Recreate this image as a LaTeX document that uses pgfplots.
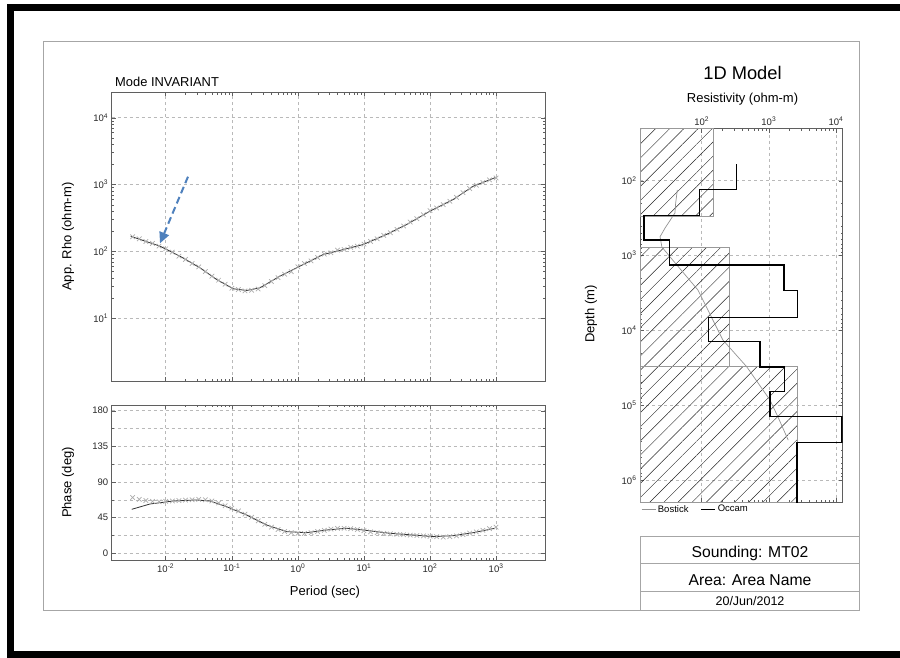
\documentclass[border=0pt]{standalone}
\usepackage{fontspec}
\setmainfont{Liberation Sans}
\usepackage{pgfplots}
\pgfplotsset{compat=1.18}
\usetikzlibrary{patterns.meta,arrows.meta}

\definecolor{arrowblue}{RGB}{79,129,189}
\definecolor{axgray}{RGB}{95,95,95}
\newcommand{\tp}[1]{10\textsuperscript{#1}}

\pgfplotsset{
  mt/.style={
    scale only axis,
    anchor=north west,
    axis line style={axgray, line width=0.7pt},
    grid style={dashed, gray!55, line width=0.5pt},
    minor grid style={dashed, gray!55, line width=0.5pt},
    tick style={axgray, line width=0.4pt},
    major tick length=4pt, minor tick length=2.2pt,
    tick label style={font=\fontsize{9.5}{10}\selectfont, text=black!85},
  },
  dat/.style={only marks, mark=x, mark size=3.2pt, color=gray!65, mark options={line width=0.7pt}}
}

\begin{document}
\begin{tikzpicture}
\path[use as bounding box] (0pt,0pt) rectangle (900pt,-657pt);
% frames
\draw[line width=7pt] (915pt,-7.5pt) -- (10pt,-7.5pt) -- (10pt,-654.5pt) -- (915pt,-654.5pt);
\draw[gray!70, line width=1pt] (43pt,-41.7pt) rectangle (859.3pt,-610.7pt);

% ---------------- Apparent resistivity ----------------
\begin{axis}[mt,
  at={(111.7pt,-92.3pt)}, width=433.3pt, height=288.7pt,
  xmode=log, ymode=log,
  xmin=0.001524, xmax=5495, ymin=1.156, ymax=23988,
  xtick={0.01,0.1,1,10,100,1000}, xticklabels={},
  ytick={10,100,1000,10000},
  yticklabels={\tp{1},\tp{2},\tp{3},\tp{4}},
  xmajorgrids, ymajorgrids]
\addplot[dat] coordinates {
(0.003162,166.0) (0.003981,154.9) (0.005012,141.3) (0.006310,131.8) (0.007943,120.2)
(0.01,109.6) (0.01259,97.7) (0.01585,85.1) (0.01995,75.9) (0.02512,66.1)
(0.03162,58.9) (0.03981,50.1) (0.05012,42.7) (0.0631,37.2) (0.07943,32.4)
(0.1,28.2) (0.1259,26.9) (0.1585,25.7) (0.1995,26.3) (0.2512,27.5)
(0.3162,30.9) (0.3981,35.5) (0.5012,40.7) (0.631,45.7) (0.7943,50.1)
(1,58.9) (1.259,66.1) (1.585,72.4) (1.995,81.3) (2.512,91.2)
(3.162,95.5) (3.981,104.7) (5.012,107.2) (6.31,114.8) (7.943,120.2)
(10,128.8) (12.59,141.3) (15.85,154.9) (19.95,173.8) (25.12,190.5)
(31.62,213.8) (39.81,239.9) (50.12,275.4) (63.1,309.0) (79.43,354.8)
(100,407.4) (125.9,446.7) (158.5,501.2) (199.5,562.3) (251.2,645.7)
(316.2,758.6) (398.1,871.0) (501.2,977.2) (631,1072) (794.3,1175) (1000,1259)
};
\addplot[black!80, line width=0.8pt] coordinates {
(0.00295,169) (0.0082,120) (0.01644,85) (0.0330,57) (0.0592,38) (0.1054,27.7)
(0.168,26.1) (0.267,28.6) (0.536,42.8) (1.076,60.3) (2.42,90) (5.47,110)
(9.75,127) (22.0,180) (44.3,253) (99.5,400) (224,598) (451,946) (959,1265)
};
\end{axis}

% ---------------- Phase ----------------
\begin{axis}[mt,
  at={(111.7pt,-405pt)}, width=433.3pt, height=155pt,
  xmode=log,
  xmin=0.001524, xmax=5495, ymin=-8.5, ymax=187.2,
  xtick={0.01,0.1,1,10,100,1000},
  xticklabels={\tp{-2},\tp{-1},\tp{0},\tp{1},\tp{2},\tp{3}},
  ytick={0,45,90,135,180}, yticklabels={0,45,90,135,180},
  minor ytick={22.5,67.5,112.5,157.5},
  xmajorgrids, ymajorgrids, yminorgrids]
\addplot[dat] coordinates {
(0.003162,70.5) (0.003981,68) (0.005012,66.5) (0.006310,65.5) (0.007943,65)
(0.01,65.5) (0.01259,66) (0.01585,66.5) (0.01995,67) (0.02512,67.5)
(0.03162,68) (0.03981,67.5) (0.05012,66) (0.0631,63.5) (0.07943,60)
(0.1,57) (0.1259,53.5) (0.1585,49.5) (0.1995,45.5) (0.2512,41)
(0.3162,36.5) (0.3981,33) (0.5012,30) (0.631,27.5) (0.7943,26)
(1,25) (1.259,25) (1.585,26) (1.995,27.5) (2.512,29)
(3.162,30.5) (3.981,31.5) (5.012,31.5) (6.31,31) (7.943,30)
(10,28.5) (12.59,27) (15.85,26) (19.95,25) (25.12,24.5)
(31.62,24) (39.81,23.5) (50.12,23) (63.1,22.5) (79.43,22)
(100,21.5) (125.9,21) (158.5,20.5) (199.5,21) (251.2,22)
(316.2,23.5) (398.1,25.5) (501.2,27) (631,29) (794.3,31) (1000,33)
};
\addplot[black!80, line width=0.8pt] coordinates {
(0.00306,55.5) (0.00578,62.2) (0.01303,66) (0.0294,67.3) (0.0468,66) (0.0837,58.8)
(0.168,48.3) (0.337,35.7) (0.677,27.3) (1.36,26) (2.73,29.4) (5.47,31.6)
(9.75,29.4) (24.7,25.2) (55.7,23.1) (112,21) (224,22.2) (451,26) (959,31.6)
};
\end{axis}

% ---------------- 1D model ----------------
\begin{axis}[mt,
  at={(640pt,-128.7pt)}, width=202.7pt, height=373.3pt,
  xmode=log, ymode=log, y dir=reverse,
  xmin=12.08, xmax=12589, ymin=20.18, ymax=1.968e6,
  xtick={100,1000,10000}, xticklabels={\tp{2},\tp{3},\tp{4}},
  xticklabel pos=upper,
  ytick={100,1000,10000,100000,1000000},
  yticklabels={\tp{2},\tp{3},\tp{4},\tp{5},\tp{6}},
  xmajorgrids, ymajorgrids,
  legend style={at={(0,0)}, anchor=north west, draw=none, fill=none,
    font=\fontsize{9.5}{10}\selectfont, legend columns=2, inner sep=1pt,
    /tikz/every even column/.append style={column sep=10pt}},
  legend image code/.code={\draw[#1] (0pt,0pt) -- (14pt,0pt);}]
\addplot[forget plot, draw=gray!80, line width=0.6pt,
  pattern={Lines[angle=45,distance=10pt,line width=0.45pt]}, pattern color=black!85]
  coordinates {(12.08,20.18) (148,20.18) (148,302) (12.08,302) (12.08,20.18)};
\addplot[forget plot, draw=gray!80, line width=0.6pt,
  pattern={Lines[angle=45,distance=10pt,line width=0.45pt]}, pattern color=black!85]
  coordinates {(12.08,777) (259,777) (259,30400) (12.08,30400) (12.08,777)};
\addplot[forget plot, draw=gray!80, line width=0.6pt,
  pattern={Lines[angle=45,distance=10pt,line width=0.45pt]}, pattern color=black!85]
  coordinates {(12.08,30400) (2636,30400) (2636,1.968e6) (12.08,1.968e6) (12.08,30400)};
\addplot[gray!85, line width=0.7pt] coordinates {
(43.4,133) (41,200) (40,270) (28.5,429) (24,561) (25.6,769) (33.7,1038)
(88,2890) (207,13460) (468,30600) (1038,85000) (1365,143000) (1945,293000)
};
\addlegendentry{Bostick}
\addplot[black, line width=1.3pt] coordinates {
(331,60) (331,130) (92,130) (92,290) (13.8,290) (13.8,620) (33,620) (33,1340)
(1690,1340) (1690,2950) (2700,2950) (2700,6680) (125,6680) (125,14000)
(738,14000) (738,30800) (1730,30800) (1730,65000) (1045,65000) (1045,143000)
(12300,143000) (12300,315000) (2636,315000) (2636,2500000)
};
\addlegendentry{Occam}
\end{axis}

% ---------------- labels ----------------
\node[anchor=base west, font=\fontsize{12.9}{14}\selectfont] at (111.7pt,-86pt) {Mode INVARIANT};
\node[rotate=90, font=\fontsize{13}{14}\selectfont] at (68pt,-236.7pt) {App. Rho (ohm-m)};
\node[rotate=90, font=\fontsize{13}{14}\selectfont] at (68pt,-482.5pt) {Phase (deg)};
\node[font=\fontsize{13}{14}\selectfont] at (325pt,-592pt) {Period (sec)};
\node[font=\fontsize{18.3}{20}\selectfont] at (742.5pt,-72.7pt) {1D Model};
\node[font=\fontsize{13}{14}\selectfont] at (742.5pt,-98.7pt) {Resistivity (ohm-m)};
\node[rotate=90, font=\fontsize{13}{14}\selectfont] at (591pt,-314pt) {Depth (m)};

% title block
\draw[gray!70, line width=1pt] (640.7pt,-536.7pt) rectangle (859.3pt,-610.7pt);
\draw[gray!70, line width=1pt] (640.7pt,-563.3pt) -- (859.3pt,-563.3pt);
\draw[gray!70, line width=1pt] (640.7pt,-591pt) -- (859.3pt,-591pt);
\node[anchor=base, font=\fontsize{15.7}{17}\selectfont] at (750pt,-557.3pt) {Sounding: MT02};
\node[anchor=base, font=\fontsize{15.7}{17}\selectfont] at (750pt,-585.3pt) {Area: Area Name};
\node[anchor=base, font=\fontsize{12.5}{14}\selectfont] at (750pt,-605pt) {20/Jun/2012};

% annotation arrow
\draw[arrowblue, line width=2pt, dash pattern=on 7pt off 4pt,
  -{Triangle[length=11pt,width=10pt]}] (188pt,-176.7pt) -- (160pt,-243.3pt);
\end{tikzpicture}
\end{document}
